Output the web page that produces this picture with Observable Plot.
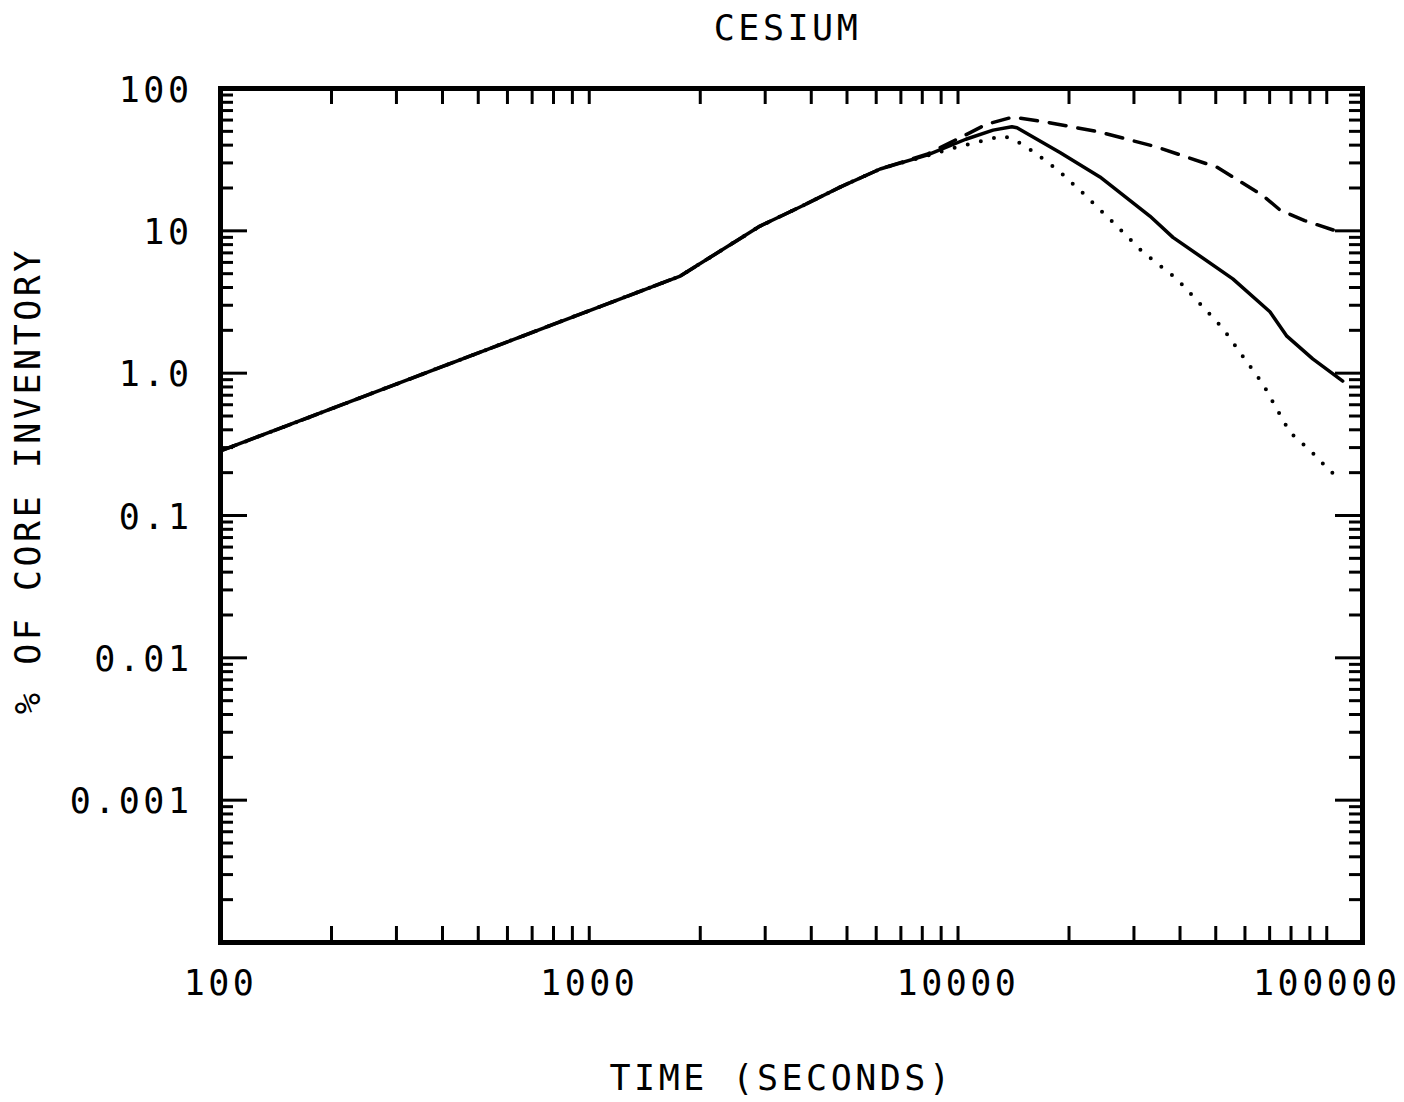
<!DOCTYPE html>
<html>
<head>
<meta charset="utf-8">
<script src="https://cdn.jsdelivr.net/npm/d3@7"></script>
<script src="https://cdn.jsdelivr.net/npm/@observablehq/plot@0.6"></script>
<style>
  html, body { margin: 0; padding: 0; background: #fff; }
  #chart svg text { letter-spacing: 3.5px; }
</style>
</head>
<body>
<div id="chart"></div>
<script>
// ---- Text ----
const titleText = "CESIUM";
const xLabelText = "TIME (SECONDS)";
const yLabelText = "% OF CORE INVENTORY";

// ---- Axis ticks ----
const xDomain = [100, 125000];
const yDomain = [0.0001, 100];
const xLabelValues = [100, 1000, 10000, 100000];
const xLabelTexts = ["100", "1000", "10000", "100000"];
const yLabelValues = [100, 10, 1, 0.1, 0.01, 0.001];
const yLabelTexts = ["100", "10", "1.0", "0.1", "0.01", "0.001"];
const xDecades = [100, 1000, 10000, 100000];
const yDecades = [0.0001, 0.001, 0.01, 0.1, 1, 10, 100];
const minorMultipliers = [2, 3, 4, 5, 6, 7, 8, 9];

// ---- Series (time in seconds, % of core inventory) ----
const solidTime = [100, 1765, 2905, 3730, 4790, 6150, 8240, 10500, 12450, 14000, 14450, 18900, 24260, 33130, 38270, 55620, 70110, 77950, 91620, 110500];
const solidPct  = [0.284, 4.81, 10.8, 14.7, 20.3, 27.2, 34, 44, 51, 53.8, 53, 35.5, 23.9, 12.7, 9.0, 4.6, 2.7, 1.82, 1.26, 0.88];

const dashedTime = [100, 1765, 2905, 3730, 4790, 6150, 8240, 10790, 11930, 14090, 17200, 24260, 34600, 50350, 67100, 74700, 87100, 104500, 110500];
const dashedPct  = [0.284, 4.81, 10.8, 14.7, 20.3, 27.2, 34.5, 49, 56, 63, 58.3, 49.4, 38.8, 28, 17.7, 14, 11.8, 10.1, 9.9];

const dottedTime = [100, 1765, 2905, 3730, 4790, 6150, 8000, 9510, 11270, 13240, 14260, 15490, 17750, 18900, 21680, 26300, 31700, 39200, 52240, 60710, 67100, 79400, 91100, 103200, 108400];
const dottedPct  = [0.284, 4.81, 10.8, 14.7, 20.3, 27.2, 33, 37.6, 42, 46.4, 43.5, 38.2, 29.5, 25.9, 18.7, 11.5, 7.1, 4.6, 2.07, 1.2, 0.84, 0.385, 0.279, 0.20, 0.19];

const toRows = (ts, vs) => ts.map((t, i) => ({t, v: vs[i]}));
const solid = toRows(solidTime, solidPct);
const dashed = toRows(dashedTime, dashedPct);
const dotted = toRows(dottedTime, dottedPct);

// minor + major tick positions
const xTicksAll = [];
for (const d of xDecades) {
  xTicksAll.push(d);
  if (d < 100000) for (const m of minorMultipliers) xTicksAll.push(d * m);
}
const yMinor = [];
for (const d of yDecades) if (d < 100) for (const m of minorMultipliers) yMinor.push(d * m);
const yMajor = yDecades;

// ---- Layout ----
const W = 1404, H = 1102;
const mL = 220, mR = 42, mT = 88, mB = 160;
const plotW = W - mL - mR;
const plotH = H - mT - mB;
const font = "DejaVu Sans Mono";
const fs = 35;
const tickW = 3;

const chart = Plot.plot({
  width: W,
  height: H,
  marginLeft: mL,
  marginRight: mR,
  marginTop: mT,
  marginBottom: mB,
  style: {fontFamily: font, fontSize: fs + "px", background: "#fff", color: "#000"},
  x: {type: "log", domain: xDomain, axis: null},
  y: {type: "log", domain: yDomain, axis: null},
  marks: [
    // inward ticks, x (bottom & top)
    Plot.ruleX(xTicksAll, {x: d => d, insetTop: plotH - 16, stroke: "#000", strokeWidth: tickW}),
    Plot.ruleX(xTicksAll, {x: d => d, insetBottom: plotH - 16, stroke: "#000", strokeWidth: tickW}),
    // inward ticks, y (left & right)
    Plot.ruleY(yMinor, {y: d => d, insetRight: plotW - 13, stroke: "#000", strokeWidth: tickW}),
    Plot.ruleY(yMinor, {y: d => d, insetLeft: plotW - 13, stroke: "#000", strokeWidth: tickW}),
    Plot.ruleY(yMajor, {y: d => d, insetRight: plotW - 27, stroke: "#000", strokeWidth: tickW}),
    Plot.ruleY(yMajor, {y: d => d, insetLeft: plotW - 27, stroke: "#000", strokeWidth: tickW}),
    // tick labels
    Plot.text(xLabelValues, {x: d => d, frameAnchor: "bottom", lineAnchor: "middle", dy: 41, text: (d, i) => xLabelTexts[i], fill: "#000"}),
    Plot.text(yLabelValues, {y: d => d, frameAnchor: "left", dx: -28, dy: 2, textAnchor: "end", lineAnchor: "middle", text: (d, i) => yLabelTexts[i], fill: "#000"}),
    // curves
    Plot.line(solid, {x: "t", y: "v", stroke: "#000", strokeWidth: 3.5}),
    Plot.line(dashed, {x: "t", y: "v", stroke: "#000", strokeWidth: 3.5, strokeDasharray: "17,12"}),
    Plot.line(dotted, {x: "t", y: "v", stroke: "#000", strokeWidth: 4, strokeDasharray: "0,13.5", strokeLinecap: "round"}),
    // frame
    Plot.frame({stroke: "#000", strokeWidth: 5}),
    // titles
    Plot.text([titleText], {frameAnchor: "top", lineAnchor: "middle", dy: -60, dx: -4, text: d => d, fill: "#000"}),
    Plot.text([xLabelText], {frameAnchor: "bottom", lineAnchor: "middle", dy: 136, dx: -10, text: d => d, fill: "#000"}),
    Plot.text([yLabelText], {frameAnchor: "left", textAnchor: "middle", lineAnchor: "middle", dx: -192, dy: -35, rotate: -90, text: d => d, fill: "#000"})
  ]
});
document.getElementById("chart").appendChild(chart);
</script>
</body>
</html>
